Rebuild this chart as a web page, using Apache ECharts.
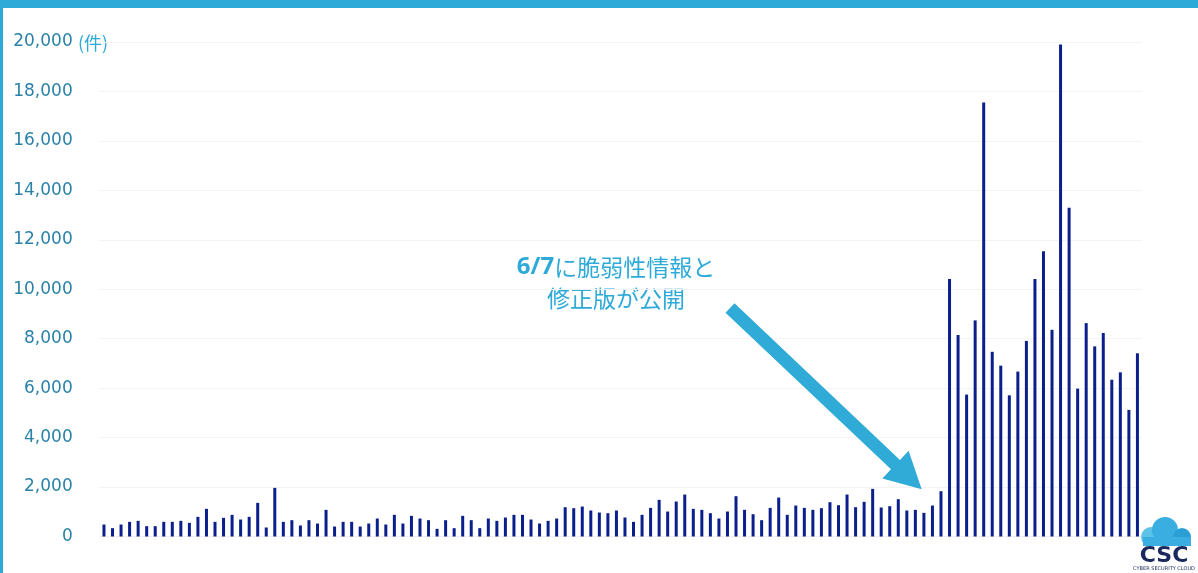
<!DOCTYPE html>
<html>
<head>
<meta charset="utf-8">
<script src="https://cdn.jsdelivr.net/npm/echarts@6/dist/echarts.min.js"></script>
<style>
html,body{margin:0;padding:0;background:#fff;}
#chart{width:1198px;height:573px;}
</style>
</head>
<body>
<div id="chart"></div>
<script>
// Daily counts (件) before the 6/7 disclosure
const countsBefore = [
  485,337,485,593,633,418,418,593,593,633,552,795,1118,593,754,876,687,795,1360,364,
  1967,593,660,445,660,525,1078,404,593,593,404,525,727,485,876,525,835,727,660,310,
  660,337,835,660,337,727,633,768,876,876,687,525,633,727,1185,1145,1212,1051,970,943,
  1051,768,593,876,1158,1482,1010,1414,1697,1118,1078,943,727,1010,1630,1078,902,660,1158,1576,
  876,1253,1158,1078,1145,1387,1266,1697,1185,1401,1926,1172,1226,1509,1051,1078,956,1253,1832
];
// Daily counts (件) after the disclosure
const countsAfter = [
  10410,8150,5740,8740,17550,7470,6910,5710,6670,7910,10410,11540,8360,19900,13300,5980,
  8630,7690,8230,6340,6640,5120,7410
];
const values = countsBefore.concat(countsAfter);
// Category labels: one per day (hidden on the axis)
const startDate = new Date(2024, 1, 29);
const categories = values.map(function (_, i) {
  const d = new Date(startDate.getTime() + i * 86400000);
  return (d.getMonth() + 1) + '/' + d.getDate();
});
const yTicks = { min: 0, max: 20000, interval: 2000 };
const unitLabel = '(件)';
const noteLine1 = '6/7';
const noteLine1b = 'に脆弱性情報と';
const noteLine2 = '修正版が公開';

const chart = echarts.init(document.getElementById('chart'), null, { renderer: 'canvas' });
const BLUE = '#2eaad9';
chart.setOption({
  animation: false,
  backgroundColor: '#ffffff',
  grid: { left: 99.7, right: 56.3, top: 42, bottom: 36.5, containLabel: false },
  xAxis: {
    type: 'category',
    data: categories,
    boundaryGap: true,
    axisLine: { show: true, lineStyle: { color: '#eeeeee' } },
    axisTick: { show: false },
    axisLabel: { show: false },
    splitLine: { show: false }
  },
  yAxis: {
    type: 'value',
    min: yTicks.min, max: yTicks.max, interval: yTicks.interval,
    axisLine: { show: false },
    axisTick: { show: false },
    axisLabel: {
      margin: 27,
      color: '#2a82a8',
      fontFamily: 'DejaVu Sans',
      fontSize: 17,
      padding: [3, 0, 0, 0],
      formatter: function (v) { return v.toLocaleString('en-US'); }
    },
    splitLine: { show: true, lineStyle: { color: '#f3f3f3', width: 1 } }
  },
  series: [{
    type: 'bar',
    data: values,
    barWidth: 3,
    itemStyle: { color: '#0b1f8c' }
  }],
  graphic: [
    { type: 'rect', left: 0, top: 0, shape: { width: 1198, height: 8 }, style: { fill: BLUE }, z: 10 },
    { type: 'rect', left: 0, top: 0, shape: { width: 3, height: 573 }, style: { fill: BLUE }, z: 10 },
    { type: 'text', left: 78, top: 34, style: { text: unitLabel, fill: BLUE, font: '18px "Noto Sans CJK JP"' } },
    {
      type: 'text', x: 616, y: 283,
      style: {
        text: '{b|' + noteLine1 + '}{r|' + noteLine1b + '}\n{r|' + noteLine2 + '}',
        align: 'center', verticalAlign: 'middle',
        rich: {
          b: { fill: BLUE, fontFamily: '"Open Sans","Noto Sans"', fontWeight: 'bold', fontSize: 24, lineHeight: 31 },
          r: { fill: BLUE, fontFamily: '"Noto Sans CJK JP"', fontSize: 23, lineHeight: 31 }
        }
      }
    },
    {
      type: 'polygon',
      shape: { points: [[734.5,303.3],[900,459.9],[908.6,450.8],[921.7,489.3],[882.4,478.4],[891,469.3],[725.5,312.7]] },
      style: { fill: '#30abd7' }, z: 20
    },
    // Logo (cloud + CSC)
    { type: 'circle', shape: { cx: 1151, cy: 537, r: 10 }, style: { fill: '#5cc2e8' }, z: 5 },
    { type: 'circle', shape: { cx: 1165, cy: 530, r: 13 }, style: { fill: '#3aaee0' }, z: 5 },
    { type: 'circle', shape: { cx: 1182, cy: 537, r: 9 }, style: { fill: '#2a9fd6' }, z: 5 },
    { type: 'rect', shape: { x: 1143, y: 537, width: 48, height: 9 }, style: { fill: '#3aaee0' }, z: 5 },
    { type: 'text', x: 1164, y: 556, style: { text: 'CSC', fill: '#1a2a5c', font: 'bold 22px "DejaVu Sans"', align: 'center', verticalAlign: 'middle' }, z: 6 },
    { type: 'text', x: 1164, y: 569, style: { text: 'CYBER SECURITY CLOUD', fill: '#1a2a5c', font: '5px "DejaVu Sans"', align: 'center', verticalAlign: 'middle' }, z: 6 }
  ]
});
</script>
</body>
</html>
